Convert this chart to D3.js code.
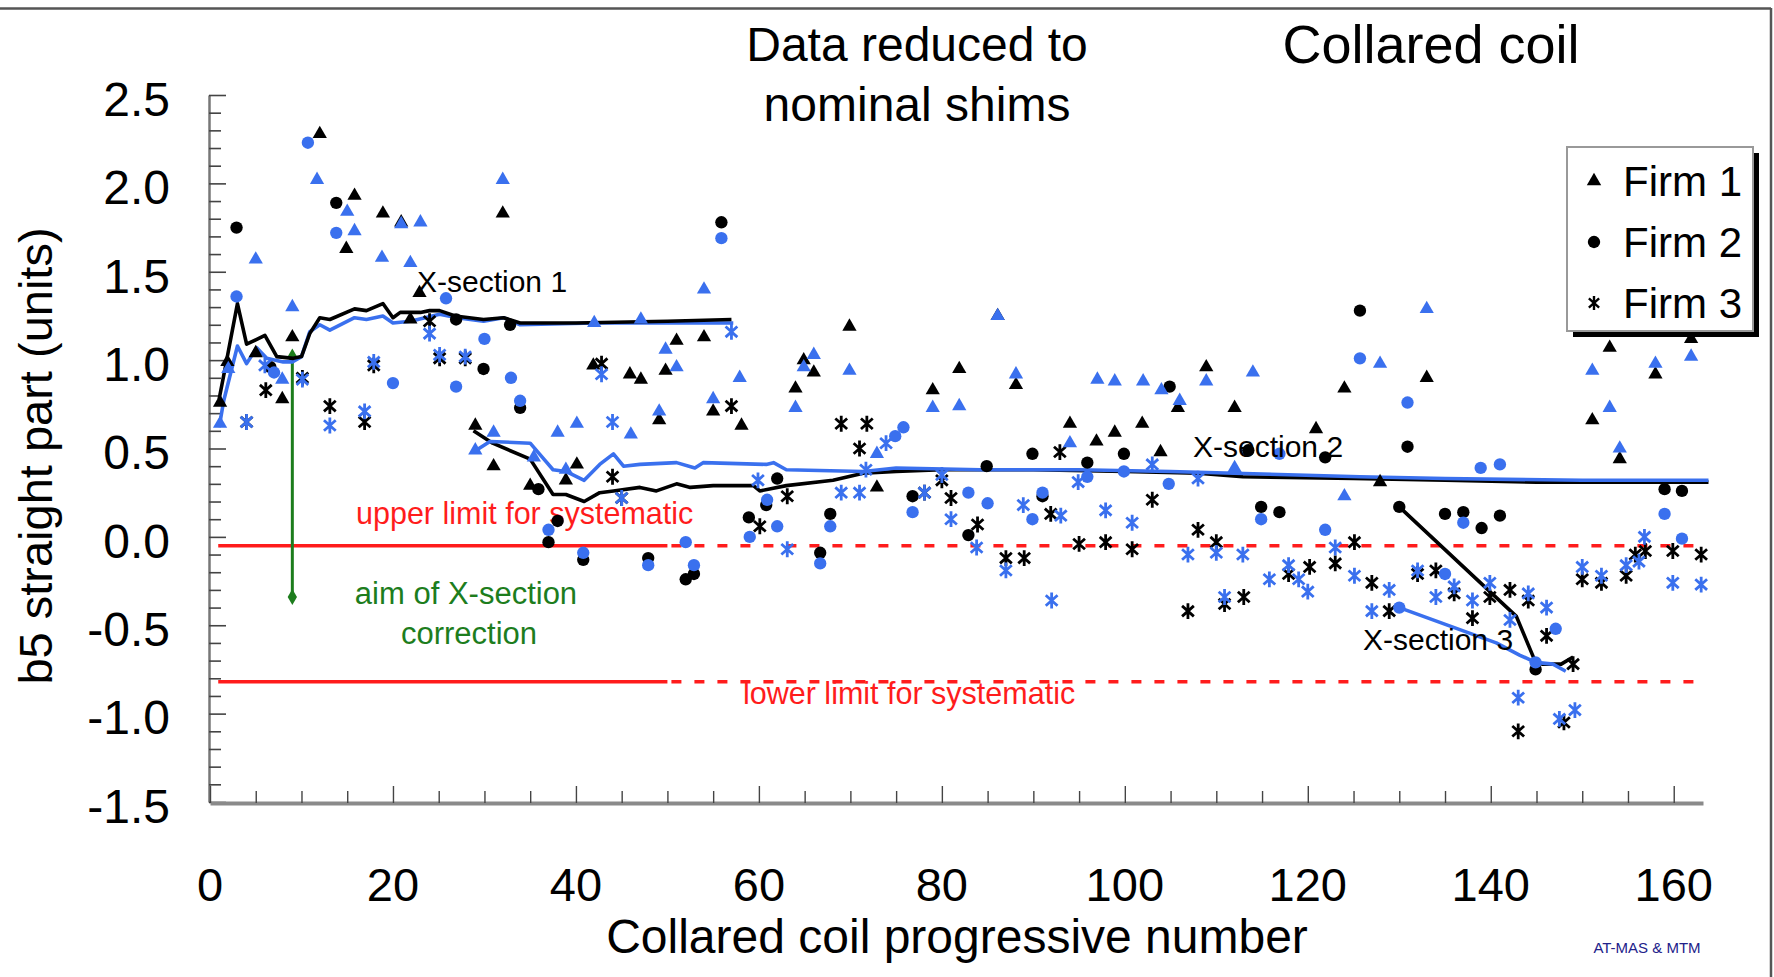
<!DOCTYPE html>
<html><head><meta charset="utf-8">
<script src="https://cdn.jsdelivr.net/npm/d3@7"></script>
<style>
body{margin:0;background:#fff;}
svg{display:block;}
text{font-family:"Liberation Sans",Arial,Helvetica,sans-serif;}
</style>
</head><body>
<svg id="chart" width="1774" height="977"></svg>
<script>
// ---------- data ----------
const xTicks = [0,20,40,60,80,100,120,140,160];
const yTicks = [-1.5,-1.0,-0.5,0.0,0.5,1.0,1.5,2.0,2.5];
const yTickLabels = ["-1.5","-1.0","-0.5","0.0","0.5","1.0","1.5","2.0","2.5"];
const legendLabels = ["Firm 1","Firm 2","Firm 3"];

// Firm 1 (triangles)
const firm1Black = [[1.1,0.76],[1.9,0.99],[5.0,1.04],[7.9,0.78],[9.0,1.13],[12.0,2.28],[14.9,1.63],[15.8,1.93],[18.9,1.83],[20.9,1.78],[21.9,1.23],[22.9,1.38],[29.0,0.63],[31.0,0.40],[32.0,1.83],[35.0,0.29],[38.9,0.32],[40.1,0.41],[41.9,0.97],[45.9,0.92],[47.1,0.89],[49.1,0.66],[49.8,0.94],[51.0,1.11],[54.0,1.13],[55.0,0.71],[58.1,0.63],[64.0,0.84],[64.9,1.00],[66.0,0.93],[69.9,1.19],[72.9,0.28],[79.0,0.83],[81.9,0.95],[86.1,1.25],[88.1,0.86],[94.0,0.64],[96.9,0.54],[98.9,0.59],[101.9,0.64],[103.9,0.48],[105.8,0.73],[108.9,0.96],[112.0,0.73],[120.9,0.61],[124.0,0.84],[127.9,0.31],[133.0,0.90],[151.1,0.66],[153.0,1.07],[154.1,0.44],[158.0,0.92],[161.9,1.12]];
const firm1Blue = [[1.1,0.64],[2.0,0.95],[5.0,1.57],[7.9,0.89],[9.0,1.30],[11.7,2.02],[15.0,1.84],[15.8,1.73],[18.8,1.58],[20.9,1.77],[21.9,1.55],[23.0,1.78],[29.0,0.49],[31.0,0.59],[32.0,2.02],[35.4,0.45],[38.0,0.59],[38.9,0.38],[40.1,0.64],[42.0,1.21],[46.0,0.58],[47.1,1.23],[49.1,0.71],[49.8,1.06],[51.0,0.96],[54.0,1.40],[55.0,0.78],[57.9,0.90],[64.0,0.73],[64.9,0.96],[66.0,1.03],[69.9,0.94],[72.9,0.47],[79.0,0.73],[81.9,0.74],[86.1,1.25],[88.1,0.92],[94.0,0.53],[97.0,0.89],[98.9,0.88],[102.0,0.88],[104.0,0.83],[106.0,0.77],[108.9,0.88],[112.0,0.39],[114.0,0.93],[124.0,0.23],[127.9,0.98],[133.0,1.29],[151.1,0.94],[153.0,0.73],[154.1,0.50],[158.0,0.98],[161.9,1.02]];

// Firm 2 (circles)
const firm2Black = [[2.9,1.75],[6.6,0.96],[13.8,1.89],[26.9,1.23],[29.9,0.95],[32.8,1.20],[33.9,0.73],[35.9,0.27],[37.0,-0.03],[38.0,0.09],[40.8,-0.13],[47.9,-0.12],[52.0,-0.24],[52.9,-0.21],[55.9,1.78],[58.9,0.11],[60.8,0.18],[62.0,0.33],[66.7,-0.09],[67.8,0.13],[76.8,0.23],[82.9,0.01],[84.9,0.40],[89.9,0.47],[91.0,0.23],[95.9,0.42],[99.9,0.47],[104.9,0.85],[113.5,0.49],[114.9,0.17],[116.9,0.14],[121.9,0.45],[125.7,1.28],[130.0,0.17],[130.9,0.51],[135.0,0.13],[137.0,0.14],[139.0,0.05],[141.0,0.12],[144.9,-0.75],[159.0,0.27],[160.9,0.26]];
const firm2Blue = [[2.9,1.36],[7.0,0.93],[10.7,2.23],[13.8,1.72],[20.0,0.87],[25.8,1.35],[26.9,0.85],[30.0,1.12],[32.9,0.90],[33.9,0.77],[37.0,0.04],[40.8,-0.09],[47.9,-0.16],[52.0,-0.03],[52.9,-0.16],[55.9,1.69],[59.0,0.00],[60.9,0.21],[62.0,0.06],[66.7,-0.15],[67.8,0.06],[74.9,0.57],[75.8,0.62],[76.8,0.14],[82.9,0.25],[85.0,0.19],[89.9,0.10],[91.0,0.25],[95.9,0.34],[99.9,0.37],[104.8,0.30],[114.9,0.10],[116.9,0.47],[121.9,0.04],[125.7,1.01],[130.0,-0.40],[130.9,0.76],[135.0,-0.21],[137.0,0.08],[138.9,0.39],[141.0,0.41],[144.9,-0.71],[147.1,-0.52],[159.0,0.13],[160.9,-0.01]];

// Firm 3 (stars)
const firm3Black = [[4.0,0.65],[6.1,0.83],[10.1,0.90],[13.1,0.74],[16.9,0.65],[17.9,0.97],[24.0,1.22],[25.1,1.01],[27.9,1.01],[42.8,0.98],[44.0,0.34],[45.0,0.22],[57.0,0.74],[60.1,0.06],[63.1,0.23],[69.0,0.64],[71.0,0.50],[71.8,0.64],[78.1,0.25],[80.0,0.32],[81.0,0.22],[83.9,0.07],[87.0,-0.12],[89.0,-0.12],[91.9,0.13],[92.9,0.48],[95.0,-0.04],[97.9,-0.03],[100.8,-0.07],[103.0,0.21],[106.9,-0.42],[108.0,0.04],[110.0,-0.03],[110.9,-0.38],[113.0,-0.34],[117.9,-0.21],[120.2,-0.17],[123.0,-0.15],[125.1,-0.03],[127.0,-0.26],[128.9,-0.42],[132.0,-0.21],[134.0,-0.19],[136.0,-0.32],[138.0,-0.46],[139.9,-0.34],[142.1,-0.30],[143.0,-1.10],[144.1,-0.36],[146.1,-0.56],[148.0,-1.05],[149.0,-0.72],[150.0,-0.24],[152.1,-0.26],[154.8,-0.22],[155.8,-0.10],[156.9,-0.08],[159.9,-0.08],[163.0,-0.10]];
const firm3Blue = [[4.0,0.65],[6.0,0.97],[10.1,0.89],[13.1,0.63],[16.9,0.71],[17.9,0.99],[24.0,1.15],[25.1,1.03],[27.9,1.02],[42.8,0.92],[44.0,0.65],[45.0,0.22],[57.0,1.16],[59.9,0.32],[63.1,-0.07],[69.0,0.25],[71.0,0.25],[71.7,0.38],[73.9,0.53],[78.1,0.25],[80.0,0.35],[81.0,0.10],[83.8,-0.06],[87.0,-0.19],[88.9,0.18],[92.0,-0.36],[93.0,0.12],[94.9,0.31],[97.9,0.15],[100.8,0.08],[103.0,0.41],[106.9,-0.10],[108.0,0.33],[110.0,-0.09],[110.9,-0.34],[112.9,-0.10],[115.8,-0.24],[117.9,-0.16],[119.0,-0.24],[120.0,-0.31],[123.0,-0.06],[125.1,-0.22],[127.0,-0.42],[128.9,-0.30],[132.0,-0.19],[134.0,-0.34],[136.0,-0.28],[138.0,-0.36],[139.9,-0.26],[142.1,-0.47],[143.0,-0.91],[144.1,-0.32],[146.1,-0.40],[147.5,-1.03],[149.2,-0.98],[150.0,-0.17],[152.1,-0.22],[154.8,-0.16],[156.2,-0.14],[156.8,0.00],[159.9,-0.26],[163.0,-0.27]];

// X-section running lines
const xsec1Black = [[1.0,0.78],[1.6,0.94],[3.0,1.32],[4.0,1.09],[6.0,1.14],[7.3,1.02],[9.1,1.01],[10.0,1.02],[10.9,1.15],[12.0,1.24],[13.1,1.23],[15.8,1.29],[17.1,1.28],[18.9,1.32],[20.0,1.24],[20.8,1.27],[23.0,1.27],[24.0,1.28],[25.1,1.28],[26.8,1.25],[29.9,1.23],[32.1,1.24],[33.9,1.21],[40.0,1.21],[50.0,1.22],[57.0,1.23]];
const xsec1Blue = [[1.0,0.62],[1.5,0.77],[3.0,1.08],[4.0,0.98],[5.1,1.07],[6.2,1.01],[8.0,0.99],[9.0,0.99],[10.0,1.02],[10.9,1.16],[12.0,1.20],[13.1,1.17],[15.8,1.24],[17.1,1.23],[18.9,1.25],[20.0,1.21],[21.9,1.22],[25.1,1.26],[27.0,1.24],[29.9,1.22],[32.1,1.24],[33.9,1.20],[42.0,1.21],[57.2,1.21]];
const xsec2Black = [[28.8,0.60],[30.9,0.53],[35.0,0.44],[37.5,0.24],[38.9,0.24],[40.9,0.20],[42.6,0.25],[44.1,0.26],[47.0,0.28],[48.8,0.26],[51.0,0.30],[52.5,0.28],[55.0,0.29],[59.4,0.29],[60.1,0.26],[63.0,0.29],[68.1,0.32],[71.4,0.36],[75.0,0.37],[80.0,0.38],[90.0,0.38],[100.0,0.37],[108.0,0.36],[112.9,0.34],[125.0,0.33],[135.0,0.32],[145.0,0.31],[155.0,0.31],[163.8,0.31]];
const xsec2Blue = [[28.8,0.48],[30.6,0.54],[35.0,0.53],[36.5,0.44],[37.5,0.38],[38.9,0.37],[40.9,0.32],[42.6,0.41],[44.1,0.47],[45.2,0.40],[47.0,0.41],[51.0,0.42],[53.0,0.39],[53.9,0.42],[60.8,0.41],[61.6,0.42],[63.0,0.38],[71.4,0.37],[75.0,0.39],[84.2,0.38],[95.0,0.38],[105.0,0.37],[112.0,0.36],[125.7,0.34],[135.0,0.33],[150.0,0.32],[163.8,0.32]];
const xsec3Black = [[130.0,0.17],[142.8,-0.45],[144.9,-0.71],[145.7,-0.72],[147.7,-0.72],[149.0,-0.68]];
const xsec3Blue = [[130.0,-0.40],[140.6,-0.60],[143.2,-0.67],[144.9,-0.71],[146.8,-0.72],[148.2,-0.76]];

// limits and aim marker
const upperLimit = -0.05;
const lowerLimit = -0.82;
const limitSolidRange = [0.9, 50];
const limitDashRange = [50, 163];
const aimX = 9;
const aimRange = [1.02, -0.34];

// ---------- drawing ----------
const BLUE = "#3a70ee", RED = "#ff1c1c", GREEN = "#1d7d1d";
const svg = d3.select("#chart");
const x = d3.scaleLinear().domain([0,163.2]).range([210,1703]);
const y = d3.scaleLinear().domain([-1.5,2.5]).range([802,95]);

// outer frame
svg.append("line").attr("x1",0).attr("x2",1771).attr("y1",8.5).attr("y2",8.5).attr("stroke","#555").attr("stroke-width",2.5);
svg.append("line").attr("x1",1771).attr("x2",1771).attr("y1",8).attr("y2",977).attr("stroke","#555").attr("stroke-width",2.5);

// y axis
const gy = svg.append("g").attr("transform",`translate(${x(0)-1},0)`)
  .call(d3.axisLeft(y).tickValues(d3.range(-15,26).map(v=>v/10)).tickSize(-12).tickSizeOuter(0).tickFormat(""));
gy.selectAll(".tick line").attr("x2", d => (Math.round(Math.abs(d*10))%5===0) ? 17 : 12).attr("stroke","#444").attr("stroke-width",1.6);
gy.select(".domain").attr("stroke","#777").attr("stroke-width",2.5);

// x axis
const gx = svg.append("g").attr("transform",`translate(0,${y(-1.5)+1})`)
  .call(d3.axisBottom(x).tickValues(d3.range(0,161,5)).tickSize(-12).tickSizeOuter(0).tickFormat(""));
gx.selectAll(".tick line").attr("y2", d => d%20===0 ? -17 : -12).attr("stroke","#444").attr("stroke-width",1.4);
gx.select(".domain").attr("stroke","#8a8a8a").attr("stroke-width",4);

// tick labels
svg.append("g").selectAll("text").data(yTicks).join("text")
  .attr("x",170).attr("y",d=>y(d)+4).attr("dy","0.35em").attr("text-anchor","end")
  .attr("font-size",48).attr("fill","#000").text((d,i)=>yTickLabels[i]);
svg.append("g").selectAll("text").data(xTicks).join("text")
  .attr("x",d=>x(d)).attr("y",901).attr("text-anchor","middle")
  .attr("font-size",47).attr("fill","#000").text(d=>String(d));

// axis titles
svg.append("text").attr("transform","translate(52,456) rotate(-90)").attr("text-anchor","middle")
  .attr("font-size",47).text("b5 straight part (units)");
svg.append("text").attr("x",957).attr("y",953).attr("text-anchor","middle")
  .attr("font-size",48).text("Collared coil progressive number");
svg.append("text").attr("x",1647).attr("y",953).attr("text-anchor","middle")
  .attr("font-size",15).attr("fill","#22228a").text("AT-MAS & MTM");

// header texts
svg.append("text").attr("x",917).attr("y",61).attr("text-anchor","middle").attr("font-size",48).text("Data reduced to");
svg.append("text").attr("x",917).attr("y",121).attr("text-anchor","middle").attr("font-size",48).text("nominal shims");
svg.append("text").attr("x",1431).attr("y",63).attr("text-anchor","middle").attr("font-size",54).text("Collared coil");

// limit lines
const limits = [upperLimit, lowerLimit];
svg.append("g").selectAll("line").data(limits).join("line")
  .attr("x1",x(limitSolidRange[0])).attr("x2",x(limitSolidRange[1]))
  .attr("y1",d=>y(d)).attr("y2",d=>y(d)).attr("stroke",RED).attr("stroke-width",3.4);
svg.append("g").selectAll("line").data(limits).join("line")
  .attr("x1",x(limitDashRange[0])+4).attr("x2",x(limitDashRange[1]))
  .attr("y1",d=>y(d)).attr("y2",d=>y(d)).attr("stroke",RED).attr("stroke-width",3.4)
  .attr("stroke-dasharray","10,13");
svg.append("text").attr("x",356).attr("y",524).attr("font-size",30.5).attr("fill",RED).text("upper limit for systematic");
svg.append("text").attr("x",743).attr("y",704).attr("font-size",30.5).attr("fill",RED).text("lower limit for systematic");

// aim marker
svg.append("line").attr("x1",x(aimX)).attr("x2",x(aimX)).attr("y1",y(aimRange[0])).attr("y2",y(aimRange[1]))
  .attr("stroke",GREEN).attr("stroke-width",3);
svg.append("g").selectAll("path").data(aimRange).join("path")
  .attr("transform",d=>`translate(${x(aimX)},${y(d)})`)
  .attr("d",d3.symbol(d3.symbolDiamond,75)()).attr("fill",GREEN);
svg.append("text").attr("x",466).attr("y",604).attr("text-anchor","middle").attr("font-size",31).attr("fill",GREEN).text("aim of X-section");
svg.append("text").attr("x",469).attr("y",644).attr("text-anchor","middle").attr("font-size",31).attr("fill",GREEN).text("correction");

// running lines
const line = d3.line().x(d=>x(d[0])).y(d=>y(d[1]));
const lineSets = [[xsec1Blue,BLUE],[xsec1Black,"#000"],[xsec2Black,"#000"],[xsec2Blue,BLUE],[xsec3Black,"#000"],[xsec3Blue,BLUE]];
svg.append("g").selectAll("path").data(lineSets).join("path")
  .attr("d",d=>line(d[0])).attr("fill","none").attr("stroke",d=>d[1]).attr("stroke-width",3.6).attr("stroke-linejoin","round");

// markers
const starType = {
  draw(ctx, size){
    const r = Math.sqrt(size)*0.5;
    const a = r*Math.cos(Math.PI/4.3), b = r*Math.sin(Math.PI/4.3);
    ctx.moveTo(0,-r); ctx.lineTo(0,r);
    ctx.moveTo(-a,-b); ctx.lineTo(a,b);
    ctx.moveTo(-a,b); ctx.lineTo(a,-b);
  }
};
const triangle = d3.symbol(d3.symbolTriangle,88)();
const circle = d3.symbol(d3.symbolCircle,120)();
const star = d3.symbol(starType,250)();
function drawSeries(data, path, color, stroked){
  const g = svg.append("g");
  g.selectAll("path").data(data).join("path")
    .attr("transform",d=>`translate(${x(d[0])},${y(d[1])})`)
    .attr("d",path)
    .attr("fill", stroked ? "none" : color)
    .attr("stroke", stroked ? color : "none")
    .attr("stroke-width", stroked ? 2.8 : 0);
}
drawSeries(firm3Black, star, "#000", true);
drawSeries(firm1Black, triangle, "#000", false);
drawSeries(firm2Black, circle, "#000", false);
drawSeries(firm3Blue, star, BLUE, true);
drawSeries(firm1Blue, triangle, BLUE, false);
drawSeries(firm2Blue, circle, BLUE, false);

// X-section labels
svg.append("text").attr("x",417).attr("y",292).attr("font-size",30).text("X-section 1");
svg.append("text").attr("x",1193).attr("y",457).attr("font-size",30).text("X-section 2");
svg.append("text").attr("x",1363).attr("y",650).attr("font-size",30).text("X-section 3");

// legend
const lg = svg.append("g");
lg.append("rect").attr("x",1573).attr("y",153).attr("width",186).attr("height",184).attr("fill","#000");
lg.append("rect").attr("x",1567).attr("y",147).attr("width",186).attr("height",184).attr("fill","#fff").attr("stroke","#999").attr("stroke-width",2);
const legendSyms = [d3.symbol(d3.symbolTriangle,90)(), d3.symbol(d3.symbolCircle,120)(), d3.symbol(starType,190)()];
const legendY = [181,242,303];
lg.selectAll("path").data(legendLabels).join("path")
  .attr("transform",(d,i)=>`translate(1594,${legendY[i]})`)
  .attr("d",(d,i)=>legendSyms[i])
  .attr("fill",(d,i)=>i<2?"#000":"none").attr("stroke",(d,i)=>i===2?"#000":"none").attr("stroke-width",2.4);
lg.selectAll("text").data(legendLabels).join("text")
  .attr("x",1623).attr("y",(d,i)=>legendY[i]+15).attr("font-size",42).text(d=>d);
</script>
</body></html>
